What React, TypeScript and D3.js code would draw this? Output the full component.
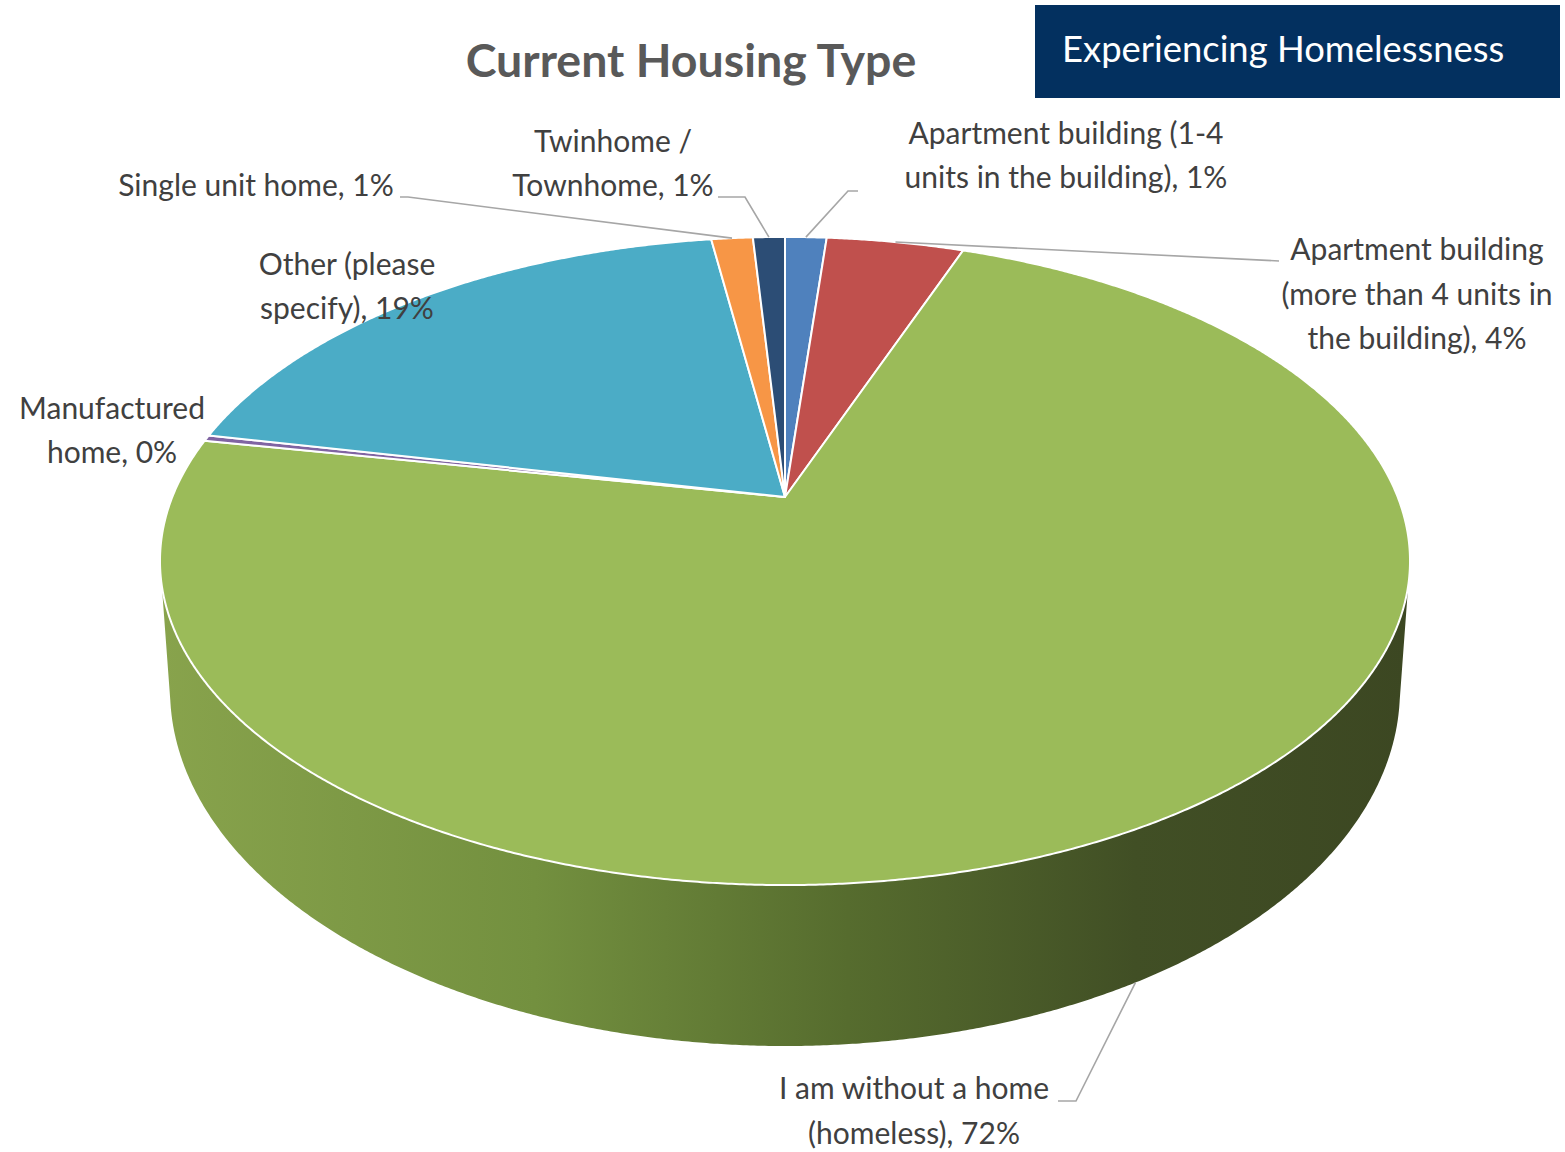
import React from "react";
import * as d3 from "d3";

// ---------- data ----------
const categories = [
  "Apartment building (1-4 units in the building)",
  "Apartment building (more than 4 units in the building)",
  "I am without a home (homeless)",
  "Manufactured home",
  "Other (please specify)",
  "Single unit home",
  "Twinhome / Townhome",
];
const values = [1.3, 4.3, 72.4, 0.3, 19.4, 1.3, 1.0];
const colors = ["#4f81bd", "#c0504d", "#9bbb59", "#8064a2", "#4bacc6", "#f79646", "#2c4d75"];
const labelLines = [
  ["Apartment building (1-4", "units in the building), {p}"],
  ["Apartment building", "(more than 4 units in", "the building), {p}"],
  ["I am without a home", "(homeless), {p}"],
  ["Manufactured", "home, {p}"],
  ["Other (please", "specify), {p}"],
  ["Single unit home, {p}"],
  ["Twinhome /", "Townhome, {p}"],
];
const title = "Current Housing Type";
const badge = "Experiencing Homelessness";

// ---------- layout ----------
const W = 1565;
const H = 1152;
// top face perspective projection
const TOP = { cx: 785, cy: 497, A: 612.7, B: 311.4, k: 0.1975 };
// bottom face perspective projection
const BOT = { cx: 785, cy: 629.5, A: 606, B: 345.7, k: 0.17 };

const labelLayout = [
  { x: 1066, ys: [133, 177], leader: [[858, 191], [848, 191]], anchor: "top" },
  { x: 1417, ys: [249, 294, 338], leader: [[1279, 261]], anchor: "top" },
  { x: 914, ys: [1088, 1133], leader: [[1058, 1101], [1076, 1101]], anchor: "bottom" },
  { x: 112, ys: [408, 452], leader: null, anchor: "top" },
  { x: 347, ys: [264, 308], leader: null, anchor: "top" },
  { x: 256, ys: [185], leader: [[400, 197], [408, 197]], anchor: "top" },
  { x: 613, ys: [141, 185], leader: [[718, 197], [745, 197]], anchor: "top" },
];

function project(P: typeof TOP, a: number): [number, number] {
  const u = Math.sin(a);
  const v = -Math.cos(a);
  const s = 1 - P.k * v;
  return [P.cx + (P.A * u) / s, P.cy + (P.B * v) / s];
}

function arcPoints(P: typeof TOP, a0: number, a1: number): [number, number][] {
  const n = Math.max(2, Math.ceil(Math.abs(a1 - a0) / 0.005));
  const sc = d3.scaleLinear().domain([0, n]).range([a0, a1]);
  return d3.range(n + 1).map((i) => project(P, sc(i)));
}

export default function App() {
  const pie = d3
    .pie<number>()
    .sort(null)
    .startAngle(0)
    .endAngle(2 * Math.PI)
    .value((d) => d);
  const arcs = pie(values);
  const line = d3.line();

  // visible front side range (silhouette where v = k)
  const aR = Math.acos(-TOP.k);
  const aL = 2 * Math.PI - aR;

  const sides = arcs
    .map((a, i) => {
      const s = Math.max(a.startAngle, aR);
      const e = Math.min(a.endAngle, aL);
      if (e <= s) return null;
      const pts = arcPoints(TOP, s, e).concat(arcPoints(BOT, e, s));
      return { i, d: line(pts) + "Z" };
    })
    .filter(Boolean) as { i: number; d: string }[];

  const tops = arcs.map((a, i) => {
    const pts: [number, number][] = [[TOP.cx, TOP.cy], ...arcPoints(TOP, a.startAngle, a.endAngle)];
    return { i, d: line(pts) + "Z" };
  });

  const pct = (v: number) => `${Math.round(v)}%`;

  return (
    <svg
      width={W}
      height={H}
      viewBox={`0 0 ${W} ${H}`}
      style={{ position: "absolute", left: 0, top: 0, background: "#fff" }}
      fontFamily="Lato, 'Open Sans', sans-serif"
    >
      <defs>
        <linearGradient id="sideGrad" gradientUnits="userSpaceOnUse" x1={160} y1={0} x2={1410} y2={0}>
          <stop offset="0" stopColor="#88a34c" />
          <stop offset="0.3" stopColor="#73903f" />
          <stop offset="0.55" stopColor="#566c2e" />
          <stop offset="0.78" stopColor="#414f25" />
          <stop offset="1" stopColor="#3c4722" />
        </linearGradient>
      </defs>
      <rect width={W} height={H} fill="#fff" />

      {/* badge */}
      <rect x={1035} y={5} width={525} height={93} fill="#03305f" />
      <text x={1062} y={62} fill="#fff" fontSize={36.4}>
        {badge}
      </text>

      {/* title */}
      <text x={691} y={77} textAnchor="middle" fill="#595959" fontSize={46.5} fontWeight="bold">
        {title}
      </text>

      {/* side wall */}
      {sides.map((s) => (
        <path key={"s" + s.i} d={s.d} fill={s.i === 2 ? "url(#sideGrad)" : d3.color(colors[s.i])!.darker(1).formatHex()} />
      ))}

      {/* top faces */}
      {tops.map((t) => (
        <path key={"t" + t.i} d={t.d} fill={colors[t.i]} stroke="#fff" strokeWidth={2} strokeLinejoin="round" />
      ))}

      {/* leaders */}
      {arcs.map((a, i) => {
        const L = labelLayout[i];
        if (!L.leader) return null;
        const mid = (a.startAngle + a.endAngle) / 2;
        const anchor = project(L.anchor === "bottom" ? BOT : TOP, mid);
        const pts = [...(L.leader as [number, number][]), anchor];
        return <path key={"l" + i} d={line(pts)!} fill="none" stroke="#a6a6a6" strokeWidth={1.6} />;
      })}

      {/* labels */}
      {labelLines.map((lines, i) => (
        <text key={"lab" + i} textAnchor="middle" fill="#404040" fontSize={30} aria-label={categories[i]}>
          {lines.map((ln, j) => (
            <tspan key={j} x={labelLayout[i].x} y={labelLayout[i].ys[j] + 11}>
              {ln.replace("{p}", pct(values[i]))}
            </tspan>
          ))}
        </text>
      ))}
    </svg>
  );
}
